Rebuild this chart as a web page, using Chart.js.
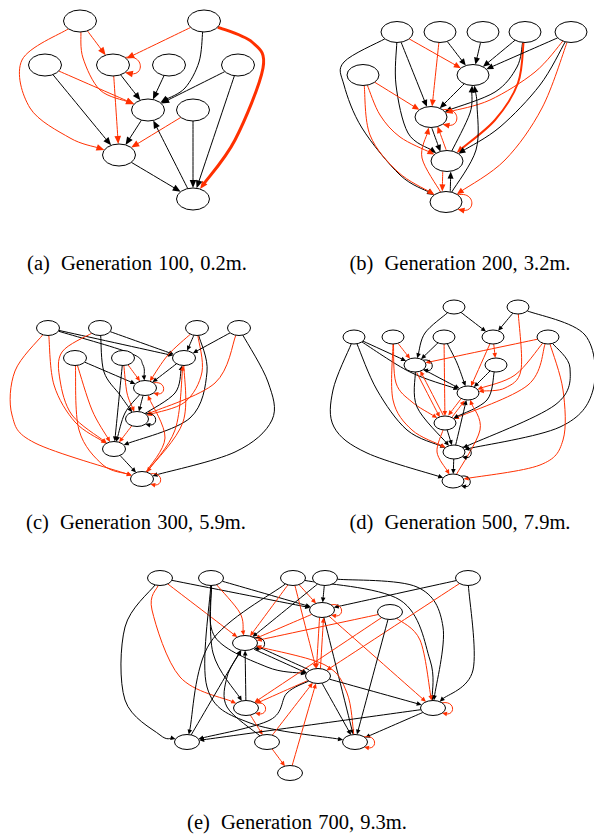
<!DOCTYPE html>
<html>
<head>
<meta charset="utf-8">
<script src="https://cdn.jsdelivr.net/npm/chart.js@4.4.1/dist/chart.umd.min.js"></script>
<style>
  html, body { margin: 0; padding: 0; background: #fff; width: 594px; height: 838px; overflow: hidden; }
  canvas.panel { position: absolute; }
  .cap { position: absolute; font-family: "Liberation Serif", "Times New Roman", serif; font-size: 20.5px;
         line-height: 20px; white-space: nowrap; color: #000; transform: translateX(-50%); word-spacing: 1px; }
  .cap .lbl { margin-right: 5px; }
</style>
</head>
<body>
<div class="cap" style="left:137px; top:253px"><span class="lbl">(a)</span> Generation 100, 0.2m.</div>
<div class="cap" style="left:460px; top:253px"><span class="lbl">(b)</span> Generation 200, 3.2m.</div>
<div class="cap" style="left:136px; top:512px"><span class="lbl">(c)</span> Generation 300, 5.9m.</div>
<div class="cap" style="left:460px; top:512px"><span class="lbl">(d)</span> Generation 500, 7.9m.</div>
<div class="cap" style="left:297px; top:812px"><span class="lbl">(e)</span> Generation 700, 9.3m.</div>
<script>
// Graph layouts: node centres in layout units, edges as [from, to, colour, route?, width?, offset?]

// (a) Generation 100
const nodesA = [[80,21],[204,21],[45,65],[113,65],[169,65],[238,65],[148,110],[193,110],[119,155],[193,199]];
const edgesA = [
  [0,8,'r',[[22,60],[30,108],[70,138]]],
  [0,6,'r',[[83,58],[100,90]]],
  [0,3,'r'], [1,3,'r'], [3,3,'r'],
  [1,6,'k',[[199,62],[185,88]]],
  [1,9,'r',[[252,42],[263,68],[235,140]],3],
  [2,8,'k'], [2,6,'r'], [3,6,'k'], [3,8,'r'], [4,6,'k'], [5,6,'k'], [5,9,'k'],
  [6,8,'k'], [7,8,'r'], [7,9,'k'], [9,6,'k'], [8,9,'k']
];

// (b) Generation 200
const nodesB = [[97,32],[140,32],[183,32],[225,32],[271,32],[63,75],[173,75],[131,117],[147,161],[146,202]];
const edgesB = [
  [0,9,'k',[[44,62],[44,85],[62,128],[100,175]]],
  [0,6,'r'], [0,7,'k'],
  [0,8,'k',[[96,85],[108,133]]],
  [1,7,'r'], [1,6,'k'], [2,6,'k'], [3,6,'k'],
  [3,7,'k',[[217,67],[195,92]]],
  [3,8,'r',[[218,83],[195,120]],2],
  [4,6,'k'],
  [4,7,'r',[[235,72],[190,100]]],
  [4,8,'k',[[240,85],[200,127]]],
  [4,9,'r',[[242,108],[205,160]]],
  [5,7,'r'],
  [5,8,'r',[[80,115],[100,137]]],
  [5,9,'r',[[70,135],[98,172]]],
  [6,7,'k'], [7,7,'r'],
  [7,8,'k',null,1,3], [8,7,'r',null,1,3],
  [8,9,'r',null,1,4], [9,8,'k',null,1,4],
  [8,6,'k',[[170,113]]],
  [9,6,'k',[[176,150],[177,105]]],
  [9,7,'r',[[122,158]]],
  [9,9,'r']
];

// (c) Generation 300
const nodesC = [[48,23],[100,23],[197,23],[239,23],[75,53],[123,53],[184,53],[145,83],[137,114],[114,144],[142,174]];
const edgesC = [
  [0,6,'k'],
  [0,7,'k',[[130,48],[143,60]]],
  [0,10,'r',[[15,66],[12,110],[35,138]]],
  [0,9,'r',[[54,80],[75,117]]],
  [1,6,'k'],
  [1,8,'k',[[104,67],[120,90]]],
  [1,9,'r',[[62,47],[60,75],[72,110]]],
  [2,6,'k'],
  [2,7,'r',[[168,50]]],
  [2,9,'k',[[207,67],[190,113]]],
  [2,8,'r',[[202,67],[185,97]]],
  [3,6,'k'],
  [3,10,'k',[[268,77],[272,115],[235,147]]],
  [3,8,'r',[[215,78]]],
  [4,7,'k'],
  [4,9,'r',[[92,105]]],
  [4,10,'r',[[79,125],[103,160]]],
  [5,7,'r'],
  [5,8,'r',[[127,88]]],
  [5,9,'k'],
  [6,7,'k'], [7,8,'k'],
  [7,9,'k',[[125,108]]],
  [8,6,'k',[[175,88]]],
  [9,10,'k'],
  [10,6,'r',[[175,125]]],
  [10,7,'r',[[165,133]]],
  [6,10,'r',[[183,117]]],
  [8,9,'r'],
  [7,7,'r'], [8,8,'k'], [10,10,'r']
];

// (d) Generation 500
const nodesD = [[154,17],[218,17],[54,47],[93,47],[144,47],[193,47],[248,47],[115,75],[196,75],[168,103],[145,133],[154,162],[153,191]];
const edgesD = [
  [0,7,'k',[[125,43]]],
  [0,5,'k'], [1,5,'k'],
  [1,9,'r',[[221,80],[205,98]]],
  [1,11,'k',[[285,45],[293,100],[260,137]]],
  [2,7,'k'],
  [2,9,'k',[[110,82]]],
  [2,11,'k',[[77,100],[107,140]]],
  [2,12,'k',[[33,100],[34,137],[67,163]]],
  [3,7,'r'],
  [3,10,'r',[[96,93],[112,112]]],
  [3,11,'r',[[93,110],[112,140]]],
  [4,7,'k'],
  [4,9,'k',[[157,73]]],
  [4,10,'r'],
  [5,8,'r'], [5,9,'r'], [6,7,'r'],
  [6,9,'r',[[215,85]]],
  [6,10,'r',[[228,95]]],
  [6,12,'r',[[263,100],[263,150],[240,175]]],
  [6,11,'k',[[270,78],[255,115]]],
  [8,9,'k'],
  [8,10,'k',[[187,110]]],
  [7,9,'k'],
  [7,10,'r',null,1,2], [10,7,'r',null,1,2],
  [9,10,'r',null,1,2], [10,9,'r',null,1,2],
  [12,9,'r',[[180,140]]],
  [11,9,'k'], [10,11,'k'], [11,12,'k'],
  [7,11,'k',[[117,117]]],
  [10,12,'r',[[137,162]]],
  [7,7,'k'], [11,11,'k'], [12,12,'k']
];

// (e) Generation 700
const nodesE = [[60,18],[111,18],[193,18],[225,18],[368,18],[222,50],[290,52],[145,83],[218,116],[146,148],[333,148],[87,182],[167,182],[255,182],[190,213]];
const edgesE = [
  [0,11,'k',[[25,67],[25,140],[60,175]]],
  [0,9,'r',[[52,50],[80,117]]],
  [0,7,'r'], [0,5,'k'], [1,5,'k'],
  [1,7,'r',[[140,53]]],
  [1,9,'k',[[113,93]]],
  [1,8,'k',[[115,77],[167,107]]],
  [1,13,'k',[[107,127],[150,163]]],
  [2,11,'k',[[110,83]]],
  [2,7,'r'], [2,5,'r'], [2,8,'r'],
  [2,10,'k',[[300,40],[330,100]]],
  [3,5,'k'], [3,7,'k'],
  [3,10,'k',[[317,27],[343,67]]],
  [4,5,'k'], [4,8,'r'],
  [4,10,'k',[[373,110]]],
  [5,5,'r'], [5,7,'r'], [5,13,'k'], [5,10,'r'],
  [5,8,'r',null,1,2], [8,5,'r',null,1,2],
  [6,7,'r'], [6,13,'k'],
  [6,10,'r',[[320,80]]],
  [6,9,'r'],
  [7,7,'k'],
  [7,8,'k',null,1,2], [8,7,'k',null,1,2],
  [13,7,'r',[[247,133],[225,105]]],
  [8,9,'r'], [8,10,'k'], [8,13,'k'],
  [8,11,'k',[[187,133],[170,160]]],
  [9,7,'k'], [9,12,'r'], [9,9,'r'],
  [10,11,'k'], [10,13,'k'], [10,10,'r'],
  [12,8,'r'],
  [12,7,'k',[[127,147],[127,117]]],
  [14,8,'r'], [12,14,'r'], [11,7,'k'], [13,13,'r']
];

const COLORS = { k: '#000000', r: '#ff3000' };

const panels = [
  { nodes: nodesA, edges: edgesA, left: 0,   top: 0,   w: 300, h: 222, rx: 16.5, ry: 11,  arrow: [8, 3.3], loop: 12 },
  { nodes: nodesB, edges: edgesB, left: 300, top: 0,   w: 294, h: 222, rx: 16,   ry: 10.5, arrow: [7, 3],  loop: 11 },
  { nodes: nodesC, edges: edgesC, left: 0,   top: 305, w: 300, h: 200, rx: 11.5, ry: 7.5, arrow: [5, 2.3], loop: 8 },
  { nodes: nodesD, edges: edgesD, left: 300, top: 290, w: 294, h: 210, rx: 11,   ry: 7,   arrow: [5, 2.3], loop: 7 },
  { nodes: nodesE, edges: edgesE, left: 100, top: 560, w: 400, h: 232, rx: 12.5, ry: 7.5, arrow: [5, 2.3], loop: 8 }
];

function boundary(c, toward, rx, ry) {
  let dx = toward.x - c.x, dy = toward.y - c.y;
  const d = Math.hypot(dx, dy) || 1; dx /= d; dy /= d;
  const t = 1 / Math.sqrt((dx / rx) ** 2 + (dy / ry) ** 2);
  return { x: c.x + dx * t, y: c.y + dy * t };
}

function lastControl(pts) {
  const n = pts.length;
  const p1 = pts[n - 2], p2 = pts[n - 1], p3 = p2;
  return { x: p2.x - (p3.x - p1.x) / 6, y: p2.y - (p3.y - p1.y) / 6 };
}

function strokeSpline(ctx, pts) {
  ctx.beginPath();
  ctx.moveTo(pts[0].x, pts[0].y);
  for (let i = 0; i < pts.length - 1; i++) {
    const p0 = pts[i - 1] || pts[i], p1 = pts[i], p2 = pts[i + 1], p3 = pts[i + 2] || p2;
    ctx.bezierCurveTo(p1.x + (p2.x - p0.x) / 6, p1.y + (p2.y - p0.y) / 6,
                      p2.x - (p3.x - p1.x) / 6, p2.y - (p3.y - p1.y) / 6, p2.x, p2.y);
  }
  ctx.stroke();
}

function arrowHead(ctx, tip, ux, uy, len, hw) {
  const bx = tip.x - ux * len, by = tip.y - uy * len;
  ctx.beginPath();
  ctx.moveTo(tip.x, tip.y);
  ctx.lineTo(bx - uy * hw, by + ux * hw);
  ctx.lineTo(bx + uy * hw, by - ux * hw);
  ctx.closePath();
  ctx.fill();
}

function graphPlugin(panel) {
  return {
    id: 'graphEdges',
    // edges (splines with arrowheads) under the nodes
    beforeDatasetsDraw(chart) {
      const { ctx, scales: { x, y } } = chart;
      const px = p => ({ x: x.getPixelForValue(p[0]), y: y.getPixelForValue(p[1]) });
      const { rx, ry } = panel;
      const [alen, ahw] = panel.arrow;
      ctx.save();
      ctx.lineCap = 'butt';
      ctx.lineJoin = 'round';
      for (const e of panel.edges) {
        const [from, to, col, route, width, off] = e;
        const color = COLORS[col];
        ctx.strokeStyle = color;
        ctx.fillStyle = color;
        ctx.lineWidth = width || 1;
        const a = px(panel.nodes[from]);
        if (from === to) {
          // self-loop on the right side of the node
          const ext = panel.loop;
          const s = { x: a.x + rx * 0.72, y: a.y - ry * 0.68 };
          const t = { x: a.x + rx * 0.72, y: a.y + ry * 0.68 };
          const cx = a.x + rx + ext * 1.25;
          const c1 = { x: cx, y: a.y - ry * 1.05 }, c2 = { x: cx, y: a.y + ry * 1.05 };
          let ux = t.x - c2.x, uy = t.y - c2.y;
          const d = Math.hypot(ux, uy); ux /= d; uy /= d;
          const end = { x: t.x - ux * alen * 0.7, y: t.y - uy * alen * 0.7 };
          ctx.beginPath();
          ctx.moveTo(s.x, s.y);
          ctx.bezierCurveTo(c1.x, c1.y, c2.x, c2.y, end.x, end.y);
          ctx.stroke();
          arrowHead(ctx, t, ux, uy, alen, ahw);
          continue;
        }
        const b = px(panel.nodes[to]);
        let pts = [a, ...(route || []).map(px), b];
        if (off) {
          let dx = b.x - a.x, dy = b.y - a.y;
          const d = Math.hypot(dx, dy) || 1;
          const nx = -dy / d * off, ny = dx / d * off;
          pts = pts.map(p => ({ x: p.x + nx, y: p.y + ny }));
        }
        const n = pts.length;
        const start = boundary(pts[0], pts[1], rx, ry);
        const tip = boundary(pts[n - 1], pts[n - 2], rx, ry);
        pts[0] = start;
        pts[n - 1] = tip;
        const c2 = lastControl(pts);
        let ux = tip.x - c2.x, uy = tip.y - c2.y;
        const d = Math.hypot(ux, uy) || 1; ux /= d; uy /= d;
        pts[n - 1] = { x: tip.x - ux * alen * 0.7, y: tip.y - uy * alen * 0.7 };
        strokeSpline(ctx, pts);
        arrowHead(ctx, tip, ux, uy, alen, ahw);
      }
      ctx.restore();
    },
    // nodes: white ellipses at the positions of the scatter points
    afterDatasetsDraw(chart) {
      const { ctx } = chart;
      const meta = chart.getDatasetMeta(0);
      ctx.save();
      ctx.fillStyle = '#fff';
      ctx.strokeStyle = '#000';
      ctx.lineWidth = 1;
      for (const pt of meta.data) {
        ctx.beginPath();
        ctx.ellipse(pt.x, pt.y, panel.rx, panel.ry, 0, 0, Math.PI * 2);
        ctx.fill();
        ctx.stroke();
      }
      ctx.restore();
    }
  };
}

for (const panel of panels) {
  const cv = document.createElement('canvas');
  cv.className = 'panel';
  cv.width = panel.w;
  cv.height = panel.h;
  cv.style.left = panel.left + 'px';
  cv.style.top = panel.top + 'px';
  cv.style.width = panel.w + 'px';
  cv.style.height = panel.h + 'px';
  document.body.appendChild(cv);
  new Chart(cv, {
    type: 'scatter',
    data: {
      datasets: [{
        data: panel.nodes.map(([nx, ny]) => ({ x: nx, y: ny })),
        pointRadius: 0,
        pointHoverRadius: 0,
        clip: false
      }]
    },
    options: {
      responsive: false,
      animation: false,
      events: [],
      layout: { padding: 0 },
      plugins: { legend: { display: false }, tooltip: { enabled: false } },
      scales: {
        x: { type: 'linear', min: 0, max: panel.w, display: false },
        y: { type: 'linear', min: 0, max: panel.h, reverse: true, display: false }
      }
    },
    plugins: [graphPlugin(panel)]
  });
}
</script>
</body>
</html>
